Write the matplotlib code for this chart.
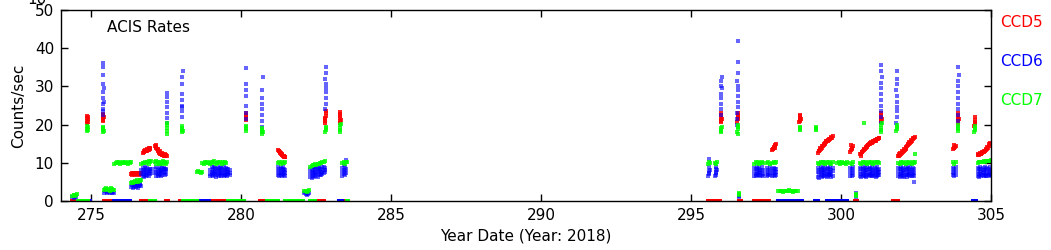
import numpy as np
import matplotlib
matplotlib.use("Agg")
import matplotlib.pyplot as plt

# ---------------- CCD5 (red) ----------------
ccd5_day = [
    274.87, 274.88, 274.88, 274.89, 274.89, 274.90, 274.87,
    275.39, 275.40, 275.40, 275.41, 275.41, 275.42, 275.39,
    276.34, 276.37, 276.40, 276.43, 276.46, 276.49, 276.52, 276.55, 276.58, 276.61, 276.64, 276.67,
    276.35, 276.41, 276.47, 276.53, 276.59, 276.65,
    276.74, 276.76, 276.78, 276.80, 276.82, 276.84, 276.86, 276.88, 276.90, 276.92, 276.94, 276.96, 276.98,
    276.75, 276.81, 276.87, 276.93,
    277.14, 277.16, 277.18, 277.20, 277.22, 277.24, 277.26, 277.28, 277.30, 277.32, 277.34, 277.36, 277.38,
    277.40, 277.42, 277.44, 277.46, 277.48, 277.50, 277.52, 277.17, 277.23, 277.29, 277.35, 277.41, 277.47,
    280.16, 280.17, 280.17, 280.18, 280.18,
    281.24, 281.26, 281.28, 281.30, 281.32, 281.34, 281.36, 281.38, 281.40, 281.42, 281.44, 281.46, 281.48,
    281.25, 281.31, 281.37, 281.43,
    282.80, 282.81, 282.81, 282.82, 282.82, 282.83, 282.80,
    283.29, 283.30, 283.30, 283.31, 283.31, 283.32, 283.30,
    295.99, 296.00, 296.00, 296.01, 296.01, 296.02, 296.00,
    296.54, 296.55, 296.55, 296.56, 296.56, 296.57,
    297.71, 297.73, 297.75, 297.77, 297.79, 297.81, 297.83, 297.74, 297.80,
    298.61, 298.62, 298.63, 298.64, 298.65, 298.63, 298.62,
    299.24, 299.27, 299.30, 299.33, 299.36, 299.39, 299.42, 299.45, 299.48, 299.51, 299.54, 299.57, 299.60,
    299.63, 299.66, 299.69, 299.72, 299.25, 299.31, 299.37, 299.43, 299.49, 299.55, 299.61, 299.67,
    300.31, 300.33, 300.35, 300.37, 300.39, 300.34,
    300.64, 300.67, 300.70, 300.73, 300.76, 300.79, 300.82, 300.85, 300.88, 300.91, 300.94, 300.97, 301.00,
    301.03, 301.06, 301.09, 301.12, 301.15, 301.18, 301.21, 301.24, 301.27, 300.65, 300.71, 300.77, 300.83,
    300.89, 300.95, 301.01, 301.07, 301.13, 301.19, 301.25,
    301.32, 301.33, 301.33, 301.34, 301.34, 301.35,
    301.91, 301.94, 301.97, 302.00, 302.03, 302.06, 302.09, 302.12, 302.15, 302.18, 302.21, 302.24, 302.27,
    302.30, 302.33, 302.36, 302.39, 302.42, 302.45, 301.92, 301.98, 302.04, 302.10, 302.16, 302.22, 302.28,
    302.34, 302.40,
    303.74, 303.76, 303.78, 303.80, 303.82, 303.77,
    303.89, 303.90, 303.90, 303.91, 303.91, 303.92,
    304.44, 304.45, 304.45, 304.46, 304.46, 304.47,
    304.56, 304.59, 304.62, 304.65, 304.68, 304.71, 304.74, 304.77, 304.80, 304.83, 304.86, 304.89, 304.92,
    304.95, 304.98, 304.58, 304.64, 304.70, 304.76, 304.82, 304.88, 304.94,
]
ccd5_rate = [
    20.4, 21.0, 21.7, 22.1, 20.8, 21.4, 22.3,
    21.0, 21.6, 22.2, 22.8, 21.3, 21.9, 22.5,
    7.1, 7.3, 7.0, 7.2, 7.1, 7.3, 7.0, 7.2, 7.1, 7.3, 7.2, 7.0,
    6.9, 7.4, 6.9, 7.4, 6.9, 7.3,
    12.6, 12.8, 12.9, 13.0, 13.0, 13.2, 13.1, 13.3, 13.3, 13.5, 13.4, 13.6, 13.8,
    13.1, 13.4, 13.6, 13.9,
    14.4, 14.1, 13.9, 13.6, 13.3, 13.0, 12.8, 12.6, 12.4, 12.3, 12.2, 12.1, 12.0,
    12.1, 11.9, 12.0, 12.1, 11.9, 12.0, 11.8, 14.6, 13.7, 13.0, 12.6, 12.4, 12.3,
    21.2, 21.9, 22.5, 23.0, 21.6,
    13.4, 13.2, 13.0, 12.8, 12.6, 12.4, 12.2, 12.1, 11.9, 11.8, 11.6, 11.5, 11.4,
    13.0, 12.5, 12.0, 11.7,
    20.3, 21.0, 21.7, 22.3, 23.0, 23.6, 21.4,
    20.4, 21.0, 21.6, 22.2, 22.9, 21.3, 23.4,
    20.6, 21.2, 21.8, 22.4, 23.1, 21.5, 20.9,
    20.8, 21.4, 22.0, 22.6, 23.0, 21.6,
    13.3, 13.6, 13.9, 14.1, 14.4, 14.6, 14.8, 13.5, 14.0,
    20.6, 21.2, 21.8, 22.3, 21.5, 20.9, 22.6,
    12.6, 13.0, 13.4, 13.7, 14.0, 14.3, 14.6, 14.9, 15.1, 15.4, 15.6, 15.8, 16.0,
    16.2, 16.4, 16.6, 16.9, 13.1, 13.8, 14.5, 15.0, 15.6, 16.0, 16.3, 16.7,
    12.9, 13.3, 13.6, 14.0, 14.4, 14.7,
    12.2, 12.4, 12.7, 13.0, 13.3, 13.6, 13.9, 14.1, 14.4, 14.6, 14.8, 15.0, 15.1,
    15.3, 15.5, 15.6, 15.7, 15.8, 16.0, 16.1, 16.2, 16.4, 11.8, 12.9, 13.5, 14.2,
    14.7, 15.2, 15.4, 15.8, 16.0, 16.3, 16.6,
    20.6, 21.2, 21.8, 22.4, 23.0, 21.5,
    11.8, 11.9, 12.1, 12.3, 12.5, 12.8, 13.1, 13.4, 13.7, 14.0, 14.3, 14.6, 14.9,
    15.2, 15.5, 15.8, 16.1, 16.4, 16.7, 12.3, 12.6, 13.0, 13.6, 14.2, 14.8, 15.4,
    16.0, 16.5,
    13.5, 13.8, 14.0, 14.2, 14.4, 14.6,
    20.5, 21.1, 21.7, 22.3, 23.0, 21.4,
    19.6, 20.2, 20.8, 21.3, 21.9, 20.5,
    12.0, 12.1, 12.2, 12.3, 12.4, 12.6, 12.7, 12.9, 13.1, 13.4, 13.7, 14.0, 14.4,
    14.8, 15.2, 12.4, 12.5, 12.8, 13.0, 13.6, 14.2, 14.9,
]
ccd5_zero_day = [
    274.38, 274.43, 274.48, 274.53,
    275.44, 275.49, 275.54, 275.59, 275.64, 275.69, 275.73,
    276.68, 276.73, 276.78, 276.83, 277.50, 277.55, 277.98, 278.03, 278.07,
    278.98, 279.03, 279.08, 279.13, 279.18, 279.23, 279.28, 279.33, 279.38, 279.43, 279.48, 279.53,
    280.64, 280.69, 280.74, 280.79, 280.84, 280.87,
    282.48, 282.53, 282.58, 282.63, 282.68, 282.73, 282.78, 283.42, 283.47, 283.52,
    295.58, 295.63, 295.68, 295.72, 295.81, 295.86, 295.91, 295.96, 296.61, 296.66,
    297.11, 297.16, 297.21, 297.26, 297.31, 297.36, 297.40, 297.54, 297.59,
    300.48, 300.52, 301.74, 301.79, 301.84, 301.89,
]

# ---------------- CCD6 (blue) ----------------
ccd6_day = [
    274.38, 274.42, 274.46, 274.50,
    275.39, 275.40, 275.40, 275.41, 275.41, 275.42, 275.40, 275.41, 275.39, 275.40, 275.42, 275.41,
    275.44, 275.48, 275.52, 275.56, 275.60, 275.64, 275.68, 275.72, 275.76, 275.46, 275.54, 275.62, 275.70,
    276.34, 276.38, 276.42, 276.46, 276.50, 276.54, 276.58, 276.62, 276.66, 276.36, 276.44, 276.52, 276.60,
    276.40, 276.48, 276.56, 276.64,
    276.68, 276.68, 276.72, 276.72, 276.72, 276.76, 276.76, 276.76, 276.80, 276.80, 276.80, 276.84, 276.84,
    276.84, 276.88, 276.88, 276.88, 276.92, 276.92, 276.92, 276.96, 276.96, 276.96, 276.99, 276.99,
    277.14, 277.14, 277.18, 277.18, 277.18, 277.22, 277.22, 277.22, 277.26, 277.26, 277.26, 277.30, 277.30,
    277.30, 277.34, 277.34, 277.34, 277.38, 277.38, 277.38, 277.42, 277.42, 277.42, 277.46, 277.46, 277.46,
    277.50, 277.50, 277.50,
    277.52, 277.53, 277.53, 277.54, 277.54, 277.53, 277.52,
    278.02, 278.03, 278.03, 278.04, 278.04, 278.03, 278.02, 278.04, 278.05,
    278.98, 278.98, 278.98, 279.02, 279.02, 279.02, 279.06, 279.06, 279.06, 279.10, 279.10, 279.10,
    279.14, 279.14, 279.14, 279.18, 279.18, 279.18, 279.22, 279.22, 279.22, 279.26, 279.26, 279.26,
    279.30, 279.30, 279.30, 279.34, 279.34, 279.34, 279.38, 279.38, 279.38, 279.42, 279.42, 279.42,
    279.46, 279.46, 279.46, 279.50, 279.50, 279.50, 279.54, 279.54, 279.54, 279.58, 279.58, 279.58,
    279.62, 279.62, 279.62,
    280.16, 280.17, 280.17, 280.18, 280.18, 280.17, 280.16,
    280.69, 280.70, 280.70, 280.71, 280.71, 280.70, 280.69, 280.71, 280.72,
    281.24, 281.24, 281.24, 281.28, 281.28, 281.28, 281.32, 281.32, 281.32, 281.36, 281.36, 281.36,
    281.40, 281.40, 281.40, 281.44, 281.44, 281.44, 281.48, 281.48, 281.48,
    282.11, 282.15, 282.19, 282.23, 282.26, 282.13, 282.21,
    282.31, 282.31, 282.31, 282.35, 282.35, 282.35, 282.39, 282.39, 282.39, 282.43, 282.43, 282.43,
    282.47, 282.47, 282.47, 282.51, 282.51, 282.51, 282.55, 282.55, 282.55, 282.59, 282.59, 282.59,
    282.63, 282.63, 282.63, 282.67, 282.67, 282.67, 282.71, 282.71, 282.71, 282.75, 282.75, 282.75,
    282.79, 282.79, 282.79,
    282.81, 282.82, 282.82, 282.83, 282.83, 282.82, 282.81, 282.83, 282.84,
    283.38, 283.38, 283.38, 283.42, 283.42, 283.42, 283.46, 283.46, 283.46, 283.50, 283.50, 283.50,
    295.58, 295.60, 295.62, 295.59, 295.61, 295.60, 295.81, 295.83, 295.85, 295.82, 295.84, 295.83,
    295.60, 295.83,
    295.99, 296.00, 296.00, 296.01, 296.01, 296.02, 296.00, 296.01, 296.02,
    296.53, 296.54, 296.54, 296.55, 296.55, 296.56, 296.56, 296.55, 296.54, 296.55, 296.56, 296.55,
    296.59, 296.60, 296.61,
    297.11, 297.11, 297.11, 297.15, 297.15, 297.15, 297.19, 297.19, 297.19, 297.23, 297.23, 297.23,
    297.27, 297.27, 297.27, 297.31, 297.31, 297.31, 297.35, 297.35, 297.35, 297.39, 297.39, 297.39,
    297.54, 297.54, 297.54, 297.58, 297.58, 297.58, 297.62, 297.62, 297.62, 297.71, 297.71, 297.71,
    297.75, 297.75, 297.75, 297.79, 297.79, 297.79, 297.83, 297.83, 297.83,
    299.24, 299.24, 299.24, 299.28, 299.28, 299.28, 299.32, 299.32, 299.32, 299.36, 299.36, 299.36,
    299.40, 299.40, 299.40, 299.44, 299.44, 299.44, 299.48, 299.48, 299.48, 299.52, 299.52, 299.52,
    299.56, 299.56, 299.56, 299.60, 299.60, 299.60, 299.64, 299.64, 299.64, 299.68, 299.68, 299.68,
    299.72, 299.72, 299.72, 299.40,
    300.31, 300.31, 300.31, 300.35, 300.35, 300.35, 300.39, 300.39, 300.39,
    300.49, 300.50, 300.51,
    300.64, 300.64, 300.64, 300.68, 300.68, 300.68, 300.72, 300.72, 300.72, 300.76, 300.76, 300.76,
    300.80, 300.80, 300.80, 300.84, 300.84, 300.84, 300.88, 300.88, 300.88, 300.92, 300.92, 300.92,
    300.96, 300.96, 300.96, 301.00, 301.00, 301.00, 301.04, 301.04, 301.04, 301.08, 301.08, 301.08,
    301.12, 301.12, 301.12, 301.16, 301.16, 301.16, 301.20, 301.20, 301.20, 301.24, 301.24, 301.24,
    301.28, 301.28, 301.28,
    301.32, 301.33, 301.33, 301.34, 301.34, 301.33, 301.32, 301.34, 301.35, 301.33, 301.34,
    301.84, 301.85, 301.85, 301.86, 301.86, 301.85, 301.84, 301.86, 301.85, 301.86,
    301.91, 301.91, 301.91, 301.95, 301.95, 301.95, 301.99, 301.99, 301.99, 302.03, 302.03, 302.03,
    302.07, 302.07, 302.07, 302.11, 302.11, 302.11, 302.15, 302.15, 302.15, 302.19, 302.19, 302.19,
    302.23, 302.23, 302.23, 302.27, 302.27, 302.27, 302.31, 302.31, 302.31, 302.35, 302.35, 302.35,
    302.39, 302.39, 302.39, 302.43, 302.43, 302.43, 302.44,
    303.74, 303.74, 303.74, 303.78, 303.78, 303.78, 303.82, 303.82, 303.82,
    303.89, 303.90, 303.90, 303.91, 303.91, 303.90, 303.89, 303.91, 303.92, 303.90,
    304.56, 304.56, 304.56, 304.60, 304.60, 304.60, 304.64, 304.64, 304.64, 304.68, 304.68, 304.68,
    304.72, 304.72, 304.72, 304.76, 304.76, 304.76, 304.80, 304.80, 304.80, 304.84, 304.84, 304.84,
    304.88, 304.88, 304.88, 304.92, 304.92, 304.92, 304.96, 304.96, 304.96, 304.99, 304.99, 304.99,
]
ccd6_rate = [
    1.0, 0.9, 1.1, 1.0,
    22.5, 24.0, 25.5, 27.0, 28.5, 29.5, 30.5, 33.0, 35.0, 36.0, 26.0, 23.5,
    2.2, 2.5, 2.0, 2.6, 2.3, 2.1, 2.7, 2.4, 2.2, 2.8, 2.3, 2.6, 2.1,
    3.6, 4.2, 3.8, 4.4, 3.7, 4.1, 3.5, 4.3, 3.9, 4.6, 3.6, 4.5, 4.0,
    3.5, 4.3, 3.8, 4.5,
    7.0, 8.2, 6.6, 7.6, 8.7, 7.1, 8.0, 6.4, 6.9, 7.8, 8.8, 7.3, 8.4,
    6.5, 6.8, 7.7, 8.6, 7.2, 8.1, 6.6, 7.0, 7.9, 8.5, 7.4, 8.3,
    7.2, 8.5, 6.6, 7.7, 8.8, 7.0, 8.1, 6.5, 7.4, 8.4, 6.8, 7.9, 8.9,
    7.1, 8.2, 6.6, 7.5, 8.6, 6.9, 7.8, 8.7, 7.2, 8.3, 6.7, 7.6, 8.4,
    8.5, 7.0, 8.0,
    20.5, 21.8, 23.0, 24.5, 26.0, 27.2, 28.2,
    22.0, 23.5, 24.5, 25.0, 26.5, 28.0, 30.5, 32.5, 34.0,
    7.1, 8.2, 6.6, 7.6, 8.8, 6.9, 7.3, 8.4, 6.5, 7.8, 8.9, 7.0,
    6.7, 7.5, 8.6, 7.2, 8.3, 6.4, 7.9, 8.7, 6.8, 7.4, 8.5, 6.6,
    7.0, 8.1, 8.9, 6.6, 7.7, 8.6, 7.3, 8.4, 6.9, 7.8, 8.8, 6.5,
    7.1, 8.0, 6.7, 7.5, 8.6, 6.9, 7.2, 8.3, 6.6, 7.7, 8.5, 7.0,
    7.3, 8.1, 6.8,
    21.5, 23.0, 25.0, 27.5, 29.0, 30.5, 34.8,
    18.0, 19.5, 21.0, 22.5, 24.0, 25.5, 27.0, 29.0, 32.5,
    6.7, 7.8, 8.8, 7.2, 8.3, 6.5, 6.9, 7.6, 8.6, 7.4, 8.5, 6.6,
    7.0, 8.0, 8.9, 6.8, 7.7, 8.4, 7.3, 8.2, 6.6,
    2.0, 1.8, 2.2, 1.9, 2.1, 2.3, 1.7,
    6.3, 7.4, 8.5, 7.0, 8.1, 6.0, 6.6, 7.7, 8.8, 7.2, 8.4, 6.2,
    6.8, 7.6, 8.7, 7.4, 8.3, 6.5, 6.4, 7.5, 8.6, 7.1, 8.2, 8.9,
    6.7, 7.8, 8.4, 7.3, 8.5, 6.9, 7.6, 8.8, 7.0, 8.0, 8.9, 7.3,
    7.7, 8.6, 8.2,
    24.0, 25.5, 27.0, 28.5, 29.5, 30.5, 32.0, 33.5, 35.0,
    6.6, 7.6, 8.6, 7.1, 8.2, 9.3, 6.8, 7.9, 8.8, 7.3, 8.4, 10.8,
    6.6, 7.4, 8.2, 8.8, 7.0, 7.8, 6.5, 7.3, 8.1, 8.9, 7.6, 6.9,
    11.0, 8.5,
    22.5, 24.0, 25.5, 27.0, 28.0, 29.5, 30.0, 31.5, 32.5,
    20.0, 21.5, 23.0, 24.5, 26.0, 27.5, 29.0, 30.0, 31.5, 33.5, 36.3, 42.0,
    1.2, 1.7, 1.0,
    6.6, 7.6, 8.7, 7.1, 8.3, 6.5, 6.8, 7.9, 8.8, 7.3, 8.4, 6.7,
    6.9, 7.7, 8.6, 7.2, 8.2, 6.5, 6.7, 7.8, 8.9, 7.0, 8.0, 6.6,
    6.5, 7.6, 8.6, 7.1, 8.2, 6.8, 6.7, 7.9, 8.9, 7.3, 8.4, 6.6,
    6.9, 7.8, 8.7, 7.2, 8.3, 6.5, 6.8, 7.7, 8.5,
    6.4, 7.5, 8.6, 7.0, 8.1, 6.1, 6.7, 7.8, 8.9, 7.2, 8.4, 6.3,
    6.6, 7.6, 8.7, 7.3, 8.2, 6.5, 6.9, 7.9, 8.8, 7.1, 8.5, 6.2,
    6.5, 7.7, 8.6, 7.4, 8.3, 6.8, 6.8, 7.6, 8.9, 7.0, 8.2, 6.4,
    6.6, 7.9, 8.7, 10.3,
    6.6, 7.7, 8.7, 7.2, 8.3, 6.5, 6.9, 7.8, 8.9,
    1.1, 1.6, 2.0,
    6.5, 7.6, 8.7, 7.1, 8.3, 6.3, 6.8, 7.9, 8.9, 7.3, 8.4, 6.6,
    6.6, 7.7, 8.6, 7.2, 8.2, 6.4, 6.9, 8.0, 8.8, 7.0, 8.5, 6.5,
    6.7, 7.6, 8.7, 7.4, 8.3, 6.9, 6.5, 7.8, 8.9, 7.1, 8.1, 6.6,
    6.8, 7.7, 8.6, 7.3, 8.4, 6.4, 6.6, 7.9, 8.8, 7.2, 8.2, 6.7,
    6.9, 7.7, 8.5,
    20.5, 22.0, 23.5, 25.0, 26.5, 28.0, 29.5, 31.0, 32.5, 34.0, 35.5,
    20.5, 22.0, 23.5, 24.5, 26.0, 27.5, 29.0, 30.5, 32.0, 34.0,
    6.5, 7.6, 8.7, 7.1, 8.3, 6.2, 6.8, 7.9, 8.9, 7.3, 8.4, 6.5,
    6.6, 7.7, 8.6, 7.2, 8.2, 6.4, 6.9, 8.0, 8.8, 7.0, 8.5, 6.3,
    6.7, 7.6, 8.7, 7.4, 8.3, 6.8, 6.5, 7.8, 8.9, 7.1, 8.1, 6.6,
    6.8, 7.7, 8.6, 7.3, 8.4, 6.5, 5.0,
    6.7, 7.7, 8.7, 7.2, 8.3, 6.5, 6.9, 7.9, 8.9,
    21.0, 22.5, 24.0, 25.5, 27.0, 28.5, 30.0, 31.5, 33.0, 35.0,
    6.6, 7.7, 8.7, 7.1, 8.3, 6.4, 6.8, 7.9, 8.9, 7.3, 8.4, 6.6,
    6.7, 7.6, 8.6, 7.2, 8.2, 6.5, 6.9, 8.0, 8.8, 7.0, 8.5, 6.5,
    6.6, 7.7, 8.7, 7.4, 8.3, 6.9, 6.8, 7.8, 8.9, 7.1, 8.1, 6.6,
]
ccd6_zero_day = [
    274.91, 274.95,
    275.75, 275.80, 275.85, 275.90, 275.95, 276.00, 276.05, 276.10, 276.15, 276.20, 276.25, 276.30,
    278.54, 278.59, 278.64, 278.69, 278.74, 278.79, 278.84, 278.89, 278.94,
    283.28, 283.33, 283.38,
    297.91, 297.96, 298.01, 298.06, 298.11, 298.16, 298.21, 298.26, 298.31, 298.36, 298.41, 298.46,
    298.51, 298.56, 298.61, 298.66, 298.71, 299.14, 299.19, 299.23,
    299.54, 299.59, 299.64, 299.69, 299.74, 299.79, 299.84, 299.89, 299.94, 299.99, 300.04, 300.09,
    300.14, 300.19, 304.41, 304.46, 304.51,
]

# ---------------- CCD7 (green) ----------------
ccd7_day = [
    274.38, 274.42, 274.46, 274.50, 274.52, 274.44,
    274.87, 274.88, 274.89, 274.88, 274.90,
    275.39, 275.40, 275.41, 275.40, 275.42, 275.41,
    275.44, 275.48, 275.52, 275.56, 275.60, 275.64, 275.68, 275.72, 275.76, 275.50, 275.62, 275.70,
    275.78, 275.82, 275.86, 275.90, 275.94, 275.98, 276.02, 276.06, 276.10, 276.14, 276.18, 276.22,
    276.26, 276.30, 276.33,
    276.34, 276.38, 276.42, 276.46, 276.50, 276.54, 276.58, 276.62, 276.66, 276.40, 276.52, 276.64,
    276.68, 276.72, 276.76, 276.80, 276.84, 276.88, 276.92, 276.96, 276.99, 276.94,
    277.14, 277.18, 277.22, 277.26, 277.30, 277.34, 277.38, 277.42, 277.46, 277.50, 277.16, 277.28,
    277.40, 277.52,
    277.52, 277.53, 277.54, 277.53, 277.52,
    278.02, 278.03, 278.04, 278.03, 278.05,
    278.54, 278.58, 278.62, 278.66, 278.69,
    278.71, 278.75, 278.79, 278.83, 278.87, 278.91, 278.95, 278.99, 279.03, 279.07, 279.11, 279.15,
    279.19, 279.23, 279.27, 279.31, 279.35, 279.39, 279.43, 279.47, 279.51,
    280.16, 280.17, 280.18, 280.17,
    280.69, 280.70, 280.71, 280.70, 280.72,
    281.24, 281.28, 281.32, 281.36, 281.40, 281.44, 281.48,
    282.11, 282.15, 282.19, 282.23, 282.26,
    282.31, 282.35, 282.39, 282.43, 282.47, 282.51, 282.55, 282.59, 282.63, 282.67, 282.71, 282.75, 282.79,
    282.81, 282.82, 282.83, 282.82,
    283.29, 283.30, 283.31, 283.30, 283.32,
    283.38, 283.42, 283.46, 283.50, 283.52,
    295.58, 295.60, 295.62, 295.81, 295.83, 295.85,
    295.99, 296.00, 296.01, 296.02, 296.00,
    296.54, 296.55, 296.56, 296.55, 296.57,
    296.59, 296.60, 296.61,
    297.11, 297.15, 297.19, 297.23, 297.27, 297.31, 297.35, 297.39,
    297.54, 297.58, 297.62, 297.71, 297.75, 297.79, 297.83,
    297.91, 297.95, 297.99, 298.03, 298.07, 298.11, 298.15, 298.19, 298.23, 298.27, 298.31, 298.35,
    298.39, 298.43, 298.47, 298.51, 298.55,
    298.62, 298.63, 298.64, 298.63,
    299.16, 299.17, 299.18, 299.17,
    299.24, 299.28, 299.32, 299.36, 299.40, 299.44, 299.48, 299.52, 299.56, 299.60, 299.64, 299.68, 299.72,
    299.88, 299.92, 299.96, 300.00, 300.04, 300.08, 300.12, 300.16, 300.19,
    300.31, 300.35, 300.39,
    300.49, 300.50, 300.51,
    300.64, 300.68, 300.72, 300.76, 300.80, 300.84, 300.88, 300.92, 300.96, 301.00, 301.04, 301.08,
    301.12, 301.16, 301.20, 301.24, 301.28, 300.78,
    301.32, 301.33, 301.34, 301.33, 301.35,
    301.84, 301.85, 301.86, 301.85,
    301.91, 301.95, 301.99, 302.03, 302.07, 302.11, 302.15, 302.19, 302.23, 302.27, 302.31, 302.35,
    302.39, 302.43, 302.46, 302.46,
    303.74, 303.78, 303.82,
    303.89, 303.90, 303.91, 303.90,
    304.44, 304.45, 304.46, 304.45,
    304.56, 304.60, 304.64, 304.68, 304.72, 304.76, 304.80, 304.84, 304.88, 304.92, 304.96, 304.99,
]
ccd7_rate = [
    1.3, 1.5, 1.4, 1.6, 1.8, 1.7,
    18.2, 18.8, 19.3, 19.7, 18.5,
    18.0, 18.5, 19.0, 19.5, 18.3, 18.9,
    2.9, 3.1, 2.8, 3.2, 3.0, 2.9, 3.3, 3.0, 2.8, 3.4, 2.7, 3.1,
    9.8, 10.0, 10.2, 9.9, 10.1, 9.8, 10.0, 10.3, 9.9, 10.1, 10.0, 9.7,
    10.2, 10.0, 10.1,
    4.8, 5.1, 5.0, 5.3, 4.9, 5.2, 5.0, 5.4, 5.6, 4.7, 5.5, 5.2,
    9.8, 10.0, 9.9, 10.2, 10.0, 10.1, 9.8, 10.3, 10.4, 10.6,
    10.1, 9.8, 10.3, 9.9, 10.2, 10.0, 9.7, 10.3, 10.0, 9.8, 10.5, 9.6,
    10.4, 10.1,
    17.5, 18.3, 19.0, 19.8, 20.3,
    18.0, 18.6, 19.2, 19.7, 18.4,
    7.5, 7.8, 7.6, 7.4, 7.7,
    10.0, 9.8, 10.2, 9.9, 10.1, 10.0, 9.7, 10.3, 9.9, 10.1, 10.4, 9.8,
    10.0, 10.2, 9.9, 10.1, 9.7, 10.3, 10.0, 10.2, 9.9,
    18.2, 18.8, 19.4, 19.7,
    17.6, 18.2, 18.7, 19.1, 18.0,
    9.9, 10.1, 9.8, 10.2, 10.0, 9.9, 10.1,
    2.5, 2.7, 2.4, 2.6, 2.8,
    9.0, 9.2, 9.4, 9.3, 9.6, 9.5, 9.8, 9.7, 10.0, 9.9, 10.3, 10.1, 10.4,
    18.0, 18.5, 19.0, 19.3,
    18.0, 18.6, 19.2, 19.8, 20.2,
    10.0, 10.2, 9.8, 10.1, 10.3,
    9.7, 10.2, 9.9, 10.0, 9.8, 10.3,
    18.0, 18.5, 19.0, 19.5, 18.2,
    18.0, 18.8, 19.4, 20.0, 17.6,
    1.6, 2.2, 1.9,
    9.8, 10.1, 9.9, 10.2, 9.7, 10.0, 10.2, 9.9,
    9.9, 10.2, 9.8, 10.0, 10.3, 9.9, 10.1,
    2.6, 2.5, 2.7, 2.6, 2.4, 2.6, 2.7, 2.5, 2.6, 2.8, 2.5, 2.6,
    2.4, 2.7, 2.6, 2.5, 2.6,
    18.5, 19.0, 19.4, 18.8,
    18.6, 19.0, 19.5, 18.8,
    10.0, 9.8, 10.2, 9.9, 10.1, 10.0, 9.7, 10.3, 9.9, 10.1, 10.0, 9.8, 10.2,
    9.9, 10.1, 9.8, 10.0, 10.2, 9.9, 10.0, 9.8, 10.1,
    10.0, 9.8, 10.2,
    1.4, 1.9, 1.6,
    10.0, 9.8, 10.2, 9.9, 10.1, 10.0, 9.7, 10.3, 9.9, 10.1, 10.0, 9.8,
    10.2, 9.9, 10.1, 10.3, 10.0, 20.5,
    18.0, 18.6, 19.2, 19.8, 20.3,
    18.2, 18.8, 19.4, 20.0,
    10.0, 9.8, 10.2, 9.9, 10.1, 10.0, 9.7, 10.3, 9.9, 10.1, 10.0, 9.8,
    10.2, 9.9, 10.1, 12.4,
    10.1, 9.8, 10.2,
    18.2, 18.8, 19.4, 19.9,
    18.0, 18.6, 19.2, 19.6,
    10.0, 10.2, 10.1, 10.3, 10.2, 10.4, 10.3, 10.5, 10.4, 10.6, 10.5, 10.7,
]
ccd7_zero_day = [
    274.55, 274.60, 274.65, 274.70, 274.75, 274.80, 274.85, 274.89,
    276.98, 277.03, 277.08, 277.12,
    278.08, 278.13, 278.18, 278.23, 278.28, 278.33, 278.38, 278.43, 278.48, 278.52,
    279.55, 279.60, 279.65, 279.70, 279.75, 279.80, 279.85, 279.90, 279.95, 280.00, 280.05, 280.10,
    280.88, 280.93, 280.98, 281.03, 281.08, 281.13, 281.18, 281.22,
    281.48, 281.53, 281.58, 281.63, 281.68, 281.73, 281.78, 281.83, 281.88, 281.93, 281.98, 282.03, 282.07,
    282.31, 282.36, 282.41, 282.46, 283.54, 283.57,
]

ccd_labels = ["CCD5", "CCD6", "CCD7"]
ccd_colors = ["#ff0000", "#0000ff", "#00ff00"]
ccd_alpha = [0.85, 0.6, 0.8]

fig = plt.figure(figsize=(10.51, 2.5), dpi=100)
ax = fig.add_axes([61 / 1051, 49 / 250, 930 / 1051, 191 / 250])

series = [
    (ccd5_day, ccd5_rate, ccd5_zero_day),
    (ccd6_day, ccd6_rate, ccd6_zero_day),
    (ccd7_day, ccd7_rate, ccd7_zero_day),
]
for (d, r, z), col, al in zip(series, ccd_colors, ccd_alpha):
    n = min(len(d), len(r))
    ax.scatter(d[:n], r[:n], s=5.5, marker="s", c=col, linewidths=0, alpha=al, zorder=2)
    ax.scatter(z, np.zeros(len(z)), s=6, marker="s", c=col, linewidths=0, zorder=2)

ax.set_xlim(274, 305)
ax.set_ylim(0, 50)
ax.set_xticks([275, 280, 285, 290, 295, 300, 305])
ax.set_yticks([0, 10, 20, 30, 40, 50])
ax.tick_params(direction="in", top=True, right=True, length=5, width=1, labelsize=11, pad=5)
for sp in ax.spines.values():
    sp.set_linewidth(1)

ax.set_xlabel("Year Date (Year: 2018)", fontsize=11, labelpad=4)
ax.set_ylabel("Counts/sec", fontsize=11, labelpad=6)
ax.text(275.53, 45.3, "ACIS Rates", fontsize=11, va="center", ha="left")

label_y = [46.6, 36.4, 26.4]
for lab, col, yy in zip(ccd_labels, ccd_colors, label_y):
    ax.text(1.0097, yy, lab, color=col, fontsize=11, va="center", ha="left",
            transform=ax.get_yaxis_transform())

fig.text(27 / 1051, 1.0, "10", fontsize=11, va="center", ha="left")

fig.savefig("out.png", dpi=100)
